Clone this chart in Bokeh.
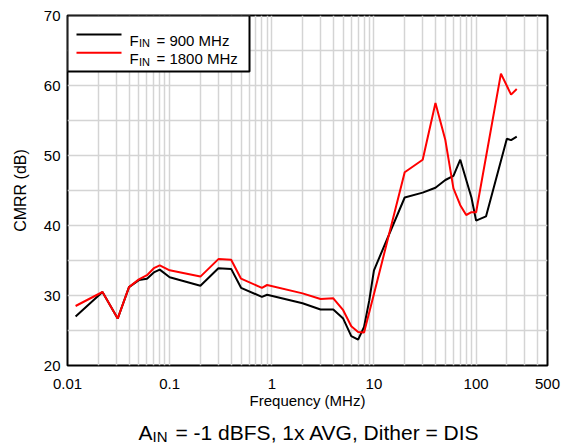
import math
from bokeh.plotting import figure
from bokeh.layouts import column
from bokeh.models import (Range1d, FixedTicker, CustomJSTickFormatter, Label,
                          BoxAnnotation)
from bokeh.embed import file_html
from bokeh.resources import INLINE

# ---------------- data ----------------
freq_900 = [0.012, 0.022, 0.031, 0.04, 0.05, 0.06, 0.07, 0.08, 0.1, 0.2, 0.3, 0.4,
            0.5, 0.8, 0.9, 2, 3, 4, 5, 6, 7, 8, 9, 10, 20, 30, 40, 50, 60, 70,
            90, 100, 125, 200, 220, 250]
cmrr_900 = [27.0, 30.5, 26.7, 31.2, 32.2, 32.4, 33.3, 33.7, 32.6, 31.4, 33.9, 33.8,
            31.1, 29.8, 30.1, 28.9, 28.0, 28.0, 26.7, 24.2, 23.7, 25.5, 29.3, 33.6,
            44.0, 44.7, 45.4, 46.5, 47.1, 49.4, 44.0, 40.7, 41.3, 52.4, 52.2, 52.7]

freq_1800 = [0.012, 0.022, 0.031, 0.04, 0.05, 0.06, 0.07, 0.08, 0.1, 0.2, 0.3, 0.4,
             0.5, 0.8, 0.9, 2, 3, 4, 5, 6, 7, 8, 10, 20, 30, 40, 50, 60, 70, 80,
             90, 100, 175, 220, 250]
cmrr_1800 = [28.5, 30.5, 26.7, 31.2, 32.3, 32.9, 33.9, 34.3, 33.6, 32.7, 35.2, 35.1,
             32.4, 31.1, 31.5, 30.3, 29.5, 29.6, 27.9, 25.6, 24.8, 24.7, 30.2, 47.6,
             49.4, 57.5, 52.2, 45.3, 42.9, 41.5, 41.9, 41.9, 61.7, 58.7, 59.5]

x_major = [0.01, 0.1, 1, 10, 100, 500]
x_minor = [k * d for d in [0.01, 0.1, 1, 10, 100] for k in range(2, 10) if k * d < 500]
y_major = [20, 30, 40, 50, 60, 70]
y_minor = [25, 35, 45, 55, 65]

series_labels = ["900 MHz", "1800 MHz"]
title_rest = "= -1 dBFS, 1x AVG, Dither = DIS"

# ---------------- layout helpers ----------------
FONT = "Liberation Sans"
X0, X1, Y0, Y1 = 0.01, 500, 20, 70
W, H = 569, 445
CAP_H = 25                   # height of caption strip
FW, FH = 480, 350            # frame size
FL, FT = 67, 15              # frame left/top in canvas px
FR = W - FL - FW
H1 = H - CAP_H


def fx(px):
    return 10 ** (math.log10(X0) + (px - FL) / FW * math.log10(X1 / X0))


def fy(py):
    return Y0 + (FT + FH - py) / FH * (Y1 - Y0)


p = figure(width=W, height=H1, x_axis_type="log",
           x_range=Range1d(X0, X1), y_range=Range1d(Y0, Y1),
           output_backend="svg", toolbar_location=None,
           min_border_left=FL, min_border_right=FR, min_border_top=FT,
           min_border_bottom=H1 - FT - FH)

p.background_fill_color = "white"
p.border_fill_color = "white"
p.outline_line_color = "black"
p.outline_line_width = 2
p.outline_line_alpha = 1

# axes
p.xaxis.ticker = FixedTicker(ticks=x_major, minor_ticks=x_minor)
p.yaxis.ticker = FixedTicker(ticks=y_major, minor_ticks=y_minor)
p.xaxis.formatter = CustomJSTickFormatter(code="return tick.toString();")
for ax in (p.xaxis, p.yaxis):
    ax.axis_line_color = None
    ax.major_tick_line_color = None
    ax.minor_tick_line_color = None
    ax.major_tick_in = 0
    ax.major_tick_out = 0
    ax.minor_tick_in = 0
    ax.minor_tick_out = 0
    ax.major_label_text_font = FONT
    ax.major_label_text_font_size = "15px"
    ax.major_label_text_color = "black"
    ax.axis_label_text_font = FONT
    ax.axis_label_text_font_style = "normal"
    ax.axis_label_text_color = "black"

p.xaxis.axis_label = "Frequency (MHz)"
p.xaxis.axis_label_text_font_size = "15px"
p.xaxis.major_label_standoff = 13
p.xaxis.axis_label_standoff = 0
p.yaxis.axis_label = "CMRR (dB)"
p.yaxis.axis_label_text_font_size = "16px"
p.yaxis.major_label_standoff = 7
p.yaxis.axis_label_standoff = 12

# grid
for g in (p.xgrid, p.ygrid):
    g.grid_line_color = "#d4d4d4"
    g.grid_line_width = 1.5
    g.minor_grid_line_color = "#d4d4d4"
    g.minor_grid_line_width = 1.5

# data lines
p.line(freq_900, cmrr_900, line_color="black", line_width=2)
p.line(freq_1800, cmrr_1800, line_color="#ff0000", line_width=2)

# legend (manual, for the subscripts)
p.add_layout(BoxAnnotation(left=X0, right=fx(249), top=Y1, bottom=fy(71),
                           fill_color="white", fill_alpha=1,
                           line_color="black", line_width=2, line_alpha=1))
colors = ["black", "#ff0000"]
for i, (lab, col) in enumerate(zip(series_labels, colors)):
    yy = fy(34 + 18.3 * i)
    p.line([fx(76), fx(121)], [yy, yy], line_color=col, line_width=2,
           level="overlay")
    base = -(24.5 + 18.5 * i)
    p.add_layout(Label(x=X0, y=Y1, x_offset=62, y_offset=base, text="F",
                       text_font=FONT, text_font_size="15px", text_color="black",
                       text_baseline="alphabetic"))
    p.add_layout(Label(x=X0, y=Y1, x_offset=71.5, y_offset=base - 3.3, text="IN",
                       text_font=FONT, text_font_size="11px", text_color="black",
                       text_baseline="alphabetic"))
    p.add_layout(Label(x=X0, y=Y1, x_offset=89, y_offset=base, text="= " + lab,
                       text_font=FONT, text_font_size="15px", text_color="black",
                       text_baseline="alphabetic"))

# ---------------- caption strip (own figure so text is not clipped) ----------------
cap = figure(width=W, height=CAP_H, x_range=Range1d(FL, FL + FW),
             y_range=Range1d(0, CAP_H),
             output_backend="svg", toolbar_location=None,
             x_axis_location=None, y_axis_location=None,
             min_border_left=FL, min_border_right=FR,
             min_border_top=0, min_border_bottom=0)
cap.title = None
cap.outline_line_color = None
cap.xgrid.visible = False
cap.ygrid.visible = False
cap.background_fill_color = "white"
cap.border_fill_color = "white"

base_y = 13                       # caption baseline in strip coordinates
cap.add_layout(Label(x=138, y=base_y, text="A",
                     text_font=FONT, text_font_size="21px", text_color="black",
                     text_baseline="alphabetic"))
cap.add_layout(Label(x=152, y=base_y - 3.5, text="IN",
                     text_font=FONT, text_font_size="15px", text_color="black",
                     text_baseline="alphabetic"))
cap.add_layout(Label(x=175, y=base_y, text=title_rest,
                     text_font=FONT, text_font_size="21px", text_color="black",
                     text_baseline="alphabetic"))

layout = column(p, cap, spacing=0)
open("out.html", "w").write(file_html(layout, INLINE))
